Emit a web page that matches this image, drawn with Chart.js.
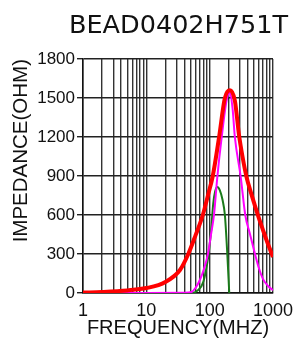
<!DOCTYPE html>
<html>
<head>
<meta charset="utf-8">
<script src="https://cdn.jsdelivr.net/npm/chart.js@4.4.1/dist/chart.umd.min.js"></script>
<style>
  html, body { margin: 0; padding: 0; background: #fff; }
  #grafica { display: block; }
</style>
</head>
<body>
<canvas id="grafica" width="300" height="338"></canvas>
<script>
// Datos (MHz -> ohm)
const tituloGrafica = "BEAD0402H751T";

const frecRojo = [1, 2, 5, 10, 20, 34, 46, 60, 78, 95, 112, 141, 174, 209, 250, 290, 330, 383, 450, 520, 590, 700, 800, 1000];
const impRojo = [3, 8, 20, 38, 85, 177, 300, 445, 600, 760, 900, 1200, 1500, 1560, 1480, 1220, 1050, 890, 770, 670, 585, 480, 400, 277];

const frecMagenta = [1, 10, 40, 52, 60, 70, 82, 94, 105, 117, 132, 155, 185, 209, 230, 250, 310, 365, 430, 520, 600, 700, 850, 1000];
const impMagenta = [0, 0, 1, 8, 40, 100, 190, 300, 450, 600, 890, 1200, 1480, 1545, 1420, 1200, 890, 600, 460, 300, 190, 105, 50, 22];

const frecVerde = [1, 50, 65, 80, 95, 105, 114, 122, 132, 145, 160, 174, 190, 204];
const impVerde = [0, 0, 20, 90, 280, 470, 690, 780, 815, 790, 715, 600, 300, 0];

// etiquetas de los ejes
const xEtiquetas = [1, 10, 100, 1000];
const yEtiquetas = [0, 300, 600, 900, 1200, 1500, 1800];

const aPuntos = (xs, ys) => xs.map((x, i) => ({ x: x, y: ys[i] }));

// titulo arriba a la derecha
const tituloPlugin = {
  id: "tituloArriba",
  afterDraw(chart) {
    const ctx = chart.ctx;
    ctx.save();
    ctx.font = '25.5px "DejaVu Sans"';
    ctx.fillStyle = "#111";
    ctx.textAlign = "right";
    ctx.textBaseline = "alphabetic";
    ctx.fillText(tituloGrafica, 288, 33);
    ctx.restore();
  },
};

const fuente = '"Liberation Sans", Arial, sans-serif';

new Chart(document.getElementById("grafica"), {
  type: "line",
  data: {
    datasets: [
      {
        label: "Z",
        data: aPuntos(frecRojo, impRojo),
        borderColor: "#ff0000",
        borderWidth: 4,
        pointRadius: 0,
        cubicInterpolationMode: "monotone",
      },
      {
        label: "X",
        data: aPuntos(frecMagenta, impMagenta),
        borderColor: "#ff00ff",
        borderWidth: 2,
        pointRadius: 0,
        cubicInterpolationMode: "monotone",
      },
      {
        label: "R",
        data: aPuntos(frecVerde, impVerde),
        borderColor: "#1a7a1a",
        borderWidth: 2,
        pointRadius: 0,
        cubicInterpolationMode: "monotone",
      },
    ],
  },
  options: {
    responsive: false,
    animation: false,
    devicePixelRatio: 1,
    layout: { padding: { top: 59, right: 27, bottom: 0, left: 0 } },
    plugins: {
      legend: { display: false },
      tooltip: { enabled: false },
      title: { display: false },
    },
    scales: {
      x: {
        type: "logarithmic",
        min: 1,
        max: 1000,
        afterBuildTicks: (scale) => {
          const lista = [];
          [1, 10, 100].forEach((d) => {
            for (let m = 1; m < 10; m++) lista.push({ value: d * m });
          });
          lista.push({ value: 1000 });
          scale.ticks = lista;
        },
        afterFit: (scale) => {
          scale.height = 45;
        },
        ticks: {
          autoSkip: false,
          maxRotation: 0,
          padding: 7,
          color: "#111",
          font: { family: fuente, size: 18 },
          callback: (v) => (xEtiquetas.includes(v) ? String(v) : ""),
        },
        grid: { color: "#333", lineWidth: 1.4, drawTicks: false },
        border: { color: "#111", width: 1.5 },
        title: {
          display: true,
          text: "FREQUENCY(MHZ)",
          color: "#111",
          font: { family: fuente, size: 20, lineHeight: 1 },
          padding: 0,
        },
      },
      y: {
        min: 0,
        max: 1800,
        afterBuildTicks: (scale) => {
          scale.ticks = yEtiquetas.map((v) => ({ value: v }));
        },
        afterFit: (scale) => {
          scale.width = 83;
        },
        ticks: {
          padding: 2,
          color: "#111",
          font: { family: fuente, size: 17 },
          callback: (v) => String(v),
        },
        grid: { color: "#222", lineWidth: 1.4, tickLength: 6 },
        border: { color: "#111", width: 1.5 },
        title: {
          display: true,
          text: "IMPEDANCE(OHM)",
          align: "end",
          color: "#111",
          font: { family: fuente, size: 20.5, lineHeight: 1.2 },
          padding: { top: 9, bottom: 0 },
        },
      },
    },
  },
  plugins: [tituloPlugin],
});
</script>
</body>
</html>
